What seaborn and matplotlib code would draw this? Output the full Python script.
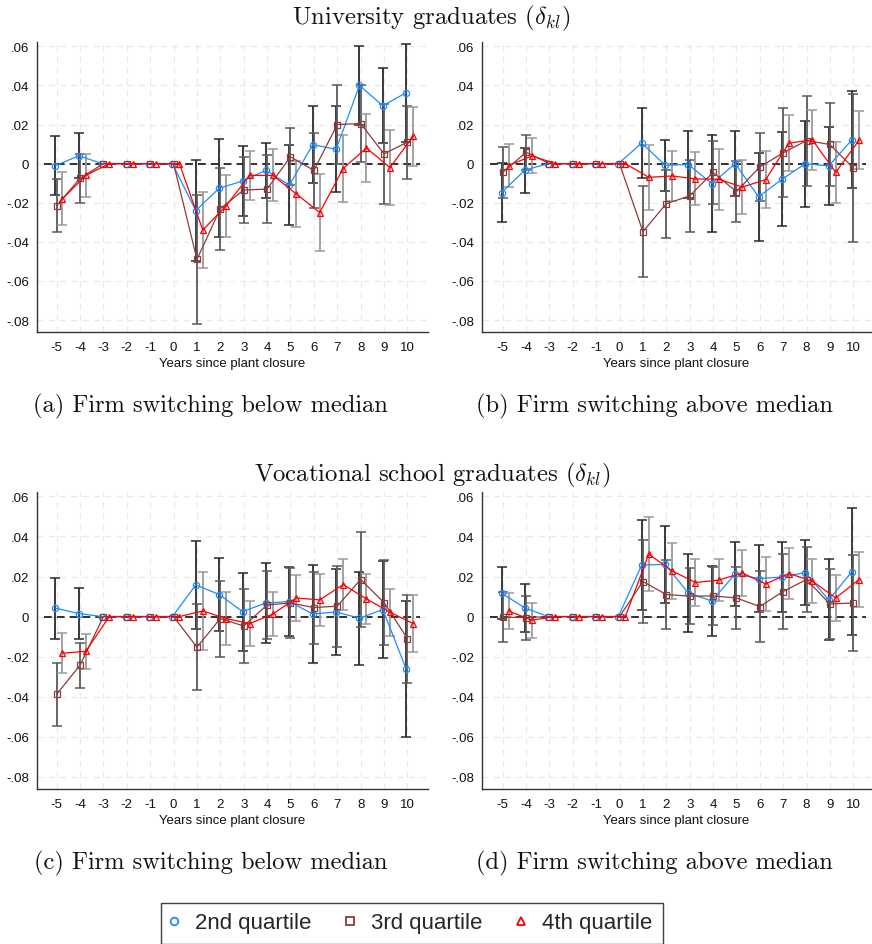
import numpy as np
import pandas as pd
import matplotlib
matplotlib.use("Agg")
import matplotlib.pyplot as plt
from matplotlib.lines import Line2D
import seaborn as sns

# ---------------- data ----------------
years = list(range(-5, 11))
xtick_labels = [str(y) for y in years]
ytick_values = [0.06, 0.04, 0.02, 0.0, -0.02, -0.04, -0.06, -0.08]
ytick_labels = [".06", ".04", ".02", "0", "-.02", "-.04", "-.06", "-.08"]
series_names = ["2nd quartile", "3rd quartile", "4th quartile"]
group_titles = ["University graduates ($\\delta_{kl}$)", "Vocational school graduates ($\\delta_{kl}$)"]
panel_captions = ["(a) Firm switching below median", "(b) Firm switching above median",
                  "(c) Firm switching below median", "(d) Firm switching above median"]
xlabel_text = "Years since plant closure"

# panel (a)
a_q2 = [-0.001, 0.004, 0, 0, 0, 0, -0.024, -0.0126, -0.0089, -0.0034, -0.011, 0.0097, 0.0073, 0.040, 0.0296, 0.0363]
a_q2_ci = [0.015, 0.0115, 0, 0, 0, 0, 0.026, 0.025, 0.0177, 0.014, 0.0204, 0.0198, 0.022, 0.020, 0.0193, 0.025]
a_q3 = [-0.0215, -0.0075, 0, 0, 0, 0, -0.049, -0.023, -0.0135, -0.013, 0.0035, -0.0035, 0.020, 0.0205, 0.005, 0.011]
a_q3_ci = [0.0135, 0.0125, 0, 0, 0, 0, 0.033, 0.021, 0.017, 0.0175, 0.0145, 0.0194, 0.020, 0.0195, 0.0254, 0.0187]
a_q4 = [-0.018, -0.006, 0, 0, 0, 0, -0.034, -0.0215, -0.006, -0.006, -0.0155, -0.025, -0.0025, 0.008, -0.002, 0.014]
a_q4_ci = [0.0135, 0.011, 0, 0, 0, 0, 0.0195, 0.0158, 0.0126, 0.0133, 0.017, 0.0195, 0.017, 0.0172, 0.019, 0.0152]

# panel (b)
b_q2 = [-0.0148, -0.0033, 0, 0, 0, 0, 0.0105, -0.0008, -0.0005, -0.0102, 0.0, -0.017, -0.008, 0.0, -0.0012, 0.0123]
b_q2_ci = [0.015, 0.0115, 0, 0, 0, 0, 0.018, 0.013, 0.017, 0.0247, 0.0165, 0.0225, 0.024, 0.022, 0.020, 0.025]
b_q3 = [-0.0045, 0.0058, 0, 0, 0, 0, -0.0348, -0.0205, -0.0165, -0.0045, -0.0143, -0.0017, 0.0055, 0.0118, 0.0098, -0.0022]
b_q3_ci = [0.0129, 0.009, 0, 0, 0, 0, 0.0232, 0.0174, 0.0184, 0.0163, 0.0155, 0.0173, 0.0227, 0.023, 0.021, 0.0378]
b_q4 = [-0.001, 0.004, 0, 0, 0, 0, -0.007, -0.0063, -0.0078, -0.008, -0.012, -0.0082, 0.0105, 0.0122, -0.0045, 0.012]
b_q4_ci = [0.011, 0.009, 0, 0, 0, 0, 0.0165, 0.013, 0.0136, 0.0156, 0.0139, 0.0146, 0.0145, 0.0153, 0.0156, 0.015]

# panel (c)
c_q2 = [0.0042, 0.0015, 0, 0, 0, 0, 0.0158, 0.011, 0.0025, 0.0068, 0.0075, 0.0013, 0.0023, -0.0008, 0.0035, -0.0263]
c_q2_ci = [0.0153, 0.0128, 0, 0, 0, 0, 0.0219, 0.018, 0.0195, 0.020, 0.0174, 0.0244, 0.0217, 0.0233, 0.0243, 0.034]
c_q3 = [-0.0388, -0.0243, 0, 0, 0, 0, -0.0153, -0.001, -0.0047, 0.0058, 0.0068, 0.0045, 0.0052, 0.0185, 0.007, -0.011]
c_q3_ci = [0.0158, 0.0113, 0, 0, 0, 0, 0.0214, 0.019, 0.0184, 0.017, 0.0173, 0.018, 0.0202, 0.0238, 0.0212, 0.022]
c_q4 = [-0.0183, -0.0173, 0, 0, 0, 0, 0.0028, -0.001, -0.0035, 0.0013, 0.0093, 0.0083, 0.016, 0.0088, 0.0022, -0.0035]
c_q4_ci = [0.010, 0.0087, 0, 0, 0, 0, 0.0194, 0.0133, 0.0113, 0.011, 0.0117, 0.0128, 0.0127, 0.0125, 0.0118, 0.0143]

# panel (d)
d_q2 = [0.0117, 0.0043, 0, 0, 0, 0, 0.0258, 0.026, 0.0117, 0.0078, 0.0213, 0.019, 0.0197, 0.022, 0.0083, 0.0225]
d_q2_ci = [0.013, 0.012, 0, 0, 0, 0, 0.0225, 0.019, 0.0195, 0.0175, 0.016, 0.0165, 0.0175, 0.0163, 0.0202, 0.0315]
d_q3 = [-0.0003, -0.0005, 0, 0, 0, 0, 0.0175, 0.011, 0.0102, 0.0103, 0.0093, 0.005, 0.0125, 0.0185, 0.0063, 0.0068]
d_q3_ci = [0.0125, 0.011, 0, 0, 0, 0, 0.0208, 0.017, 0.0139, 0.0147, 0.0155, 0.0179, 0.0185, 0.016, 0.0173, 0.0239]
d_q4 = [0.0028, -0.0018, 0, 0, 0, 0, 0.0312, 0.0228, 0.017, 0.0182, 0.0218, 0.0163, 0.0215, 0.0177, 0.0093, 0.0185]
d_q4_ci = [0.0092, 0.0088, 0, 0, 0, 0, 0.0183, 0.0138, 0.0117, 0.0105, 0.0113, 0.0133, 0.0127, 0.011, 0.0115, 0.0138]

panels = [
    [(a_q2, a_q2_ci), (a_q3, a_q3_ci), (a_q4, a_q4_ci)],
    [(b_q2, b_q2_ci), (b_q3, b_q3_ci), (b_q4, b_q4_ci)],
    [(c_q2, c_q2_ci), (c_q3, c_q3_ci), (c_q4, c_q4_ci)],
    [(d_q2, d_q2_ci), (d_q3, d_q3_ci), (d_q4, d_q4_ci)],
]

# ---------------- style ----------------
sns.set_theme(style="white")
plt.rcParams["font.family"] = ["Liberation Sans", "DejaVu Sans"]
plt.rcParams["mathtext.fontset"] = "cm"
plt.rcParams["axes.unicode_minus"] = False

line_colors = ["#1E8CFF", "#8E3A3A", "#FF0000"]
ci_colors = ["#2a2a2a", "#5a5a5a", "#9a9a9a"]
markers = ["o", "s", "^"]
offsets = [-0.05, 0.0, 0.25]
serif_font = "cmr10"

W, H = 872, 945
fig = plt.figure(figsize=(W / 100, H / 100), dpi=100)

# pixel boxes: left, right, top, bottom
boxes = [(37, 428, 43, 333), (482, 871, 43, 333), (37, 428, 493, 790), (482, 871, 493, 790)]
xlims = [(-5.84, 10.88), (-5.886, 10.76), (-5.84, 10.88), (-5.886, 10.76)]
ylim = (-0.0861, 0.0622)

for i, (box, xl, ser) in enumerate(zip(boxes, xlims, panels)):
    l, r, t, b = box
    ax = fig.add_axes([l / W, 1 - b / H, (r - l) / W, (b - t) / H])
    ax.set_xlim(*xl)
    ax.set_ylim(*ylim)
    # grid
    for yv in ytick_values:
        ax.axhline(yv, color="#e9e9e9", lw=0.9, ls=(0, (5, 4)), zorder=0)
    for xv in years:
        ax.axvline(xv, color="#e9e9e9", lw=0.9, ls=(0, (5, 4)), zorder=0)
    ax.hlines(0, -5.55, 10.55, color="#303030", lw=1.4, linestyles=[(0, (4, 2.6))], zorder=1)

    for k, (est, ci) in enumerate(ser):
        xs = np.array(years) + offsets[k]
        est = np.array(est)
        ci = np.array(ci)
        mask = ci > 0
        ax.errorbar(xs[mask], est[mask], yerr=ci[mask], fmt="none", ecolor=ci_colors[k],
                    elinewidth=1.3, capsize=3.4, capthick=1.1, zorder=2 + k)
        df = pd.DataFrame({"x": xs, "y": est})
        sns.lineplot(data=df, x="x", y="y", ax=ax, color=line_colors[k], lw=0.9,
                     marker=markers[k], markersize=4.5 if k == 0 else 4.8,
                     markeredgecolor=line_colors[k], markerfacecolor="none",
                     markeredgewidth=0.9, zorder=5 + k, legend=False)

    ax.set_xticks(years)
    ax.set_xticklabels(xtick_labels)
    ax.set_yticks(ytick_values)
    ax.set_yticklabels(ytick_labels)
    ax.tick_params(axis="both", labelsize=9.5, length=3.5, width=0.9, color="#333333",
                   direction="out", pad=2, labelcolor="#111111")
    ax.tick_params(axis="x", pad=3)
    for s in ["top", "right"]:
        ax.spines[s].set_visible(False)
    for s in ["left", "bottom"]:
        ax.spines[s].set_color("#333333")
        ax.spines[s].set_linewidth(1.0)
    ax.set_xlabel(xlabel_text, fontsize=9.5, labelpad=3, color="#111111")
    ax.set_ylabel("")
    ax.grid(False)
    # panel caption
    cx = (l + r) / 2 - 22
    cy = b + 73
    fig.text(cx / W, 1 - cy / H, panel_captions[i], ha="center", va="center",
             fontsize=17.6, family=serif_font, color="#111111")

fig.text(431 / W, 1 - 18 / H, group_titles[0], ha="center", va="center",
         fontsize=17.8, family=serif_font, color="#111111")
fig.text(432 / W, 1 - 475 / H, group_titles[1], ha="center", va="center",
         fontsize=17.8, family=serif_font, color="#111111")

handles = [Line2D([], [], ls="none", marker=markers[k], color=line_colors[k],
                  markerfacecolor="none", markeredgewidth=1.3, markersize=5.5)
           for k in range(3)]
leg = fig.legend(handles, series_names, loc="center", bbox_to_anchor=(412 / W, 1 - 924 / H),
                 ncol=3, fontsize=16, frameon=True, fancybox=False, handlelength=0.2,
                 handletextpad=0.85, columnspacing=1.65, borderpad=0.45, borderaxespad=0)
leg.get_frame().set_edgecolor("#111111")
leg.get_frame().set_linewidth(1.0)

fig.savefig("out.png", dpi=100)
